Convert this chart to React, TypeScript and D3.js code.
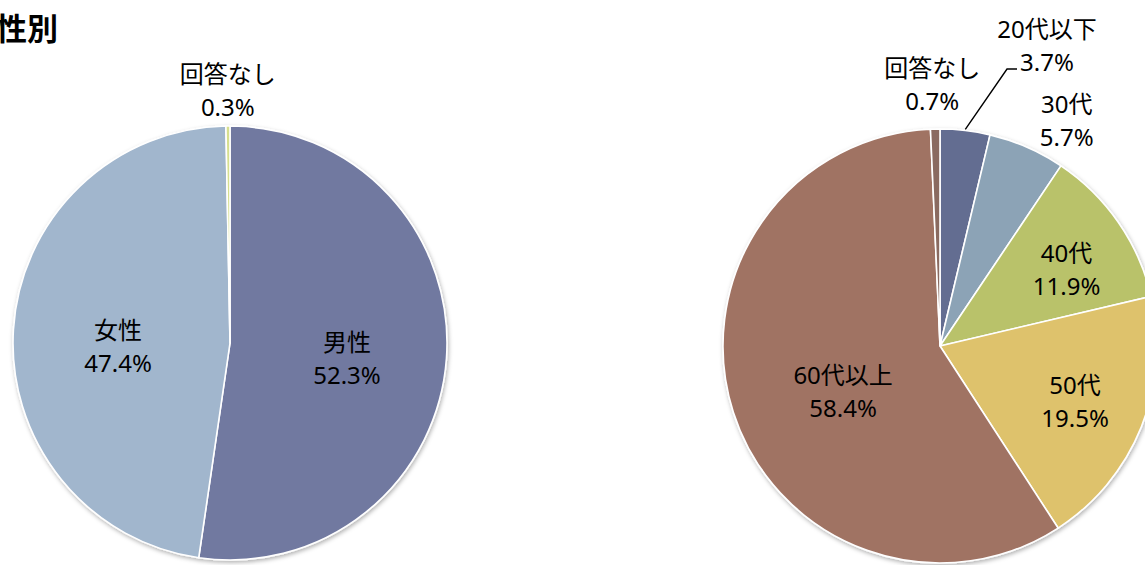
import React from 'react';
import * as d3 from 'd3';

// 性別
const genderLabels = ['男性', '女性', '回答なし'];
const genderValues = [52.3, 47.4, 0.3];
const genderColors = ['#7179A0', '#A1B6CD', '#D6DF8E'];

// 年代
const ageLabels = ['20代以下', '30代', '40代', '50代', '60代以上', '回答なし'];
const ageValues = [3.7, 5.7, 11.9, 19.5, 58.4, 0.7];
const ageColors = ['#646D91', '#8CA3B6', '#B9C26B', '#DEC26C', '#A07364', '#8A6B61'];

const W = 1145;
const H = 565;
const FONT = '"Noto Sans", "Noto Sans CJK JP", sans-serif';

interface LabelPos {
    r: number; // distance of label block centre from pie centre
    deg: number; // angle, clockwise from 12 o'clock
}

// label placement (excel "best fit" look)
const genderLabelPos: LabelPos[] = [
    { r: 118, deg: 97.5 },
    { r: 112, deg: 268 },
    { r: 253, deg: -0.5 },
];
const ageLabelPos: LabelPos[] = [
    { r: 319, deg: 19.6 },
    { r: 259, deg: 29.3 },
    { r: 148, deg: 58.8 },
    { r: 146, deg: 112.3 },
    { r: 107, deg: 244.9 },
    { r: 262, deg: -1.7 },
];

interface PieProps {
    cx: number;
    cy: number;
    radius: number;
    labels: string[];
    values: number[];
    colors: string[];
    labelPos: LabelPos[];
    leaderFor?: number;
}

const polar = (r: number, deg: number): [number, number] => {
    const a = (deg * Math.PI) / 180;
    return [r * Math.sin(a), -r * Math.cos(a)];
};

const Pie: React.FC<PieProps> = ({ cx, cy, radius, labels, values, colors, labelPos, leaderFor }) => {
    const pie = d3.pie<number>().sort(null).value((d) => d);
    const arcs = pie(values);
    const arc = d3.arc<d3.PieArcDatum<number>>().innerRadius(0).outerRadius(radius);
    const lineGap = 33;

    return (
        <g transform={`translate(${cx},${cy})`}>
            <g filter="url(#pieShadow)">
                {arcs.map((a, i) => (
                    <path key={i} d={arc(a) || ''} fill={colors[i]} stroke="#fff" strokeWidth={1.6} strokeLinejoin="round" />
                ))}
            </g>
            {arcs.map((a, i) => {
                const [lx, ly] = polar(labelPos[i].r, labelPos[i].deg);
                const y1 = ly - lineGap / 2;
                const y2 = ly + lineGap / 2;
                let leader = null;
                if (leaderFor === i) {
                    const mid = (((a.startAngle + a.endAngle) / 2) * 180) / Math.PI;
                    const [sx, sy] = polar(radius + 1, mid);
                    const ey = y2 + 7;
                    leader = (
                        <polyline
                            points={`${sx},${sy} ${lx - 40},${ey} ${lx - 30},${ey}`}
                            fill="none"
                            stroke="#000"
                            strokeWidth={1.4}
                        />
                    );
                }
                return (
                    <g key={`l${i}`}>
                        {leader}
                        <text x={lx} y={y1 + 9} textAnchor="middle" fontSize={24} fontFamily={FONT} fill="#000">
                            {labels[i]}
                        </text>
                        <text x={lx} y={y2 + 9} textAnchor="middle" fontSize={24} fontFamily={FONT} fill="#000">
                            {`${d3.format('.1f')(values[i])}%`}
                        </text>
                    </g>
                );
            })}
        </g>
    );
};

export default function App() {
    return (
        <svg
            width={W}
            height={H}
            style={{ position: 'absolute', left: 0, top: 0, background: '#fff' }}
        >
            <defs>
                <filter id="pieShadow" x="-10%" y="-10%" width="120%" height="120%">
                    <feDropShadow dx="1" dy="2" stdDeviation="2" floodColor="#000" floodOpacity="0.3" />
                </filter>
            </defs>
            <text x={-4} y={40} fontSize={31} fontWeight="bold" fontFamily={FONT} fill="#000">
                性別
            </text>
            <Pie
                cx={230}
                cy={343}
                radius={217}
                labels={genderLabels}
                values={genderValues}
                colors={genderColors}
                labelPos={genderLabelPos}
            />
            <Pie
                cx={940}
                cy={346}
                radius={217}
                labels={ageLabels}
                values={ageValues}
                colors={ageColors}
                labelPos={ageLabelPos}
                leaderFor={0}
            />
        </svg>
    );
}
